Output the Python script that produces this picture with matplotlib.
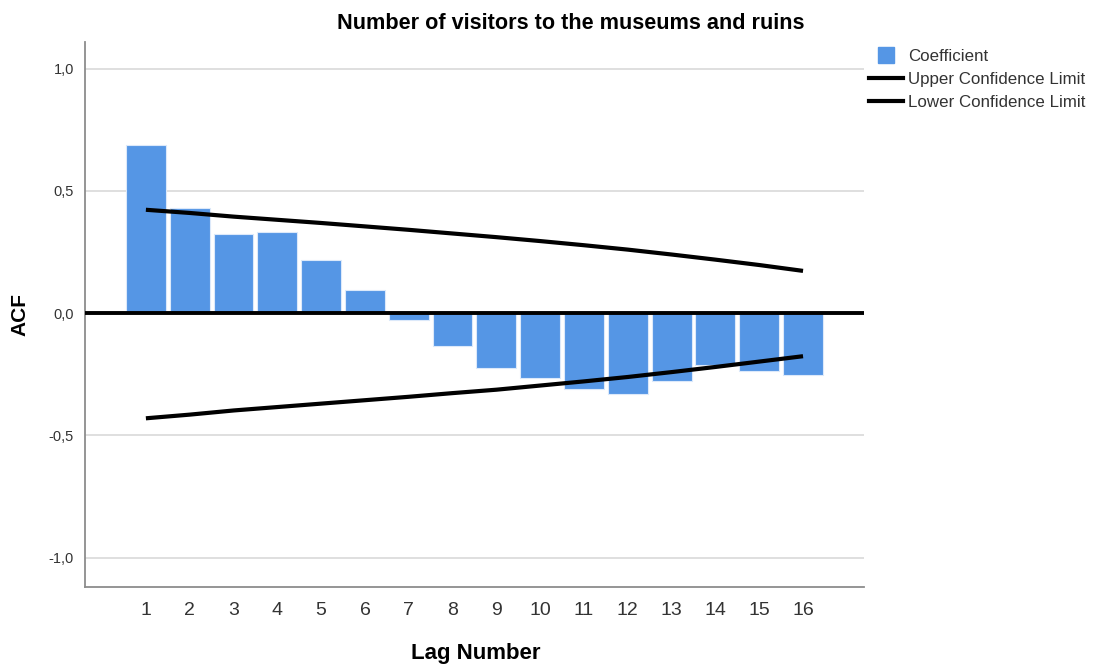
import matplotlib.pyplot as plt
from matplotlib.lines import Line2D

plt.rcParams['font.family'] = ['Liberation Sans', 'DejaVu Sans']

# data
lags = list(range(1, 17))
acf = [0.689, 0.429, 0.322, 0.331, 0.217, 0.093, -0.029, -0.134,
       -0.224, -0.265, -0.31, -0.33, -0.277, -0.214, -0.237, -0.252]
upper = [0.423, 0.41, 0.395, 0.382, 0.369, 0.355, 0.341, 0.326,
         0.311, 0.295, 0.278, 0.26, 0.24, 0.219, 0.197, 0.173]
lower = [-0.43, -0.415, -0.398, -0.384, -0.37, -0.356, -0.342, -0.327,
         -0.313, -0.296, -0.279, -0.261, -0.241, -0.22, -0.198, -0.176]
yticks = [-1.0, -0.5, 0.0, 0.5, 1.0]
ytick_labels = ['-1,0', '-0,5', '0,0', '0,5', '1,0']

fig = plt.figure(figsize=(10.94, 6.64), dpi=100)
ax = fig.add_axes([0.0777, 0.116, 0.712, 0.821])

ax.bar(lags, acf, width=0.91, color='#5596e5', edgecolor='#dce9fa', linewidth=0.8, zorder=2)
ax.axhline(0, color='black', lw=2.8, zorder=3)
ax.plot(lags, upper, color='black', lw=3, solid_capstyle='butt', zorder=4)
ax.plot(lags, lower, color='black', lw=3, solid_capstyle='butt', zorder=4)

ax.set_xlim(-0.39, 17.39)
ax.set_ylim(-1.12, 1.11)
ax.set_xticks(lags)
ax.set_xticklabels([str(l) for l in lags], fontsize=14, color='#333333')
ax.set_yticks(yticks)
ax.set_yticklabels(ytick_labels, fontsize=10.5, color='#333333')
ax.tick_params(length=0, pad=8)
ax.tick_params(axis='x', pad=11)
ax.grid(axis='y', color='#d9d9d9', lw=1.2, zorder=0)
ax.set_axisbelow(True)
for s in ['top', 'right']:
    ax.spines[s].set_visible(False)
for s in ['left', 'bottom']:
    ax.spines[s].set_color('#8c8c8c')
    ax.spines[s].set_linewidth(1.3)

fig.text(0.0185, 0.527, 'ACF', rotation=90, fontsize=15, fontweight='bold', ha='center', va='center')
fig.text(0.435, 0.016, 'Lag Number', fontsize=16, fontweight='bold', ha='center', va='center')
fig.text(0.522, 0.965, 'Number of visitors to the museums and ruins', fontsize=15.6,
         fontweight='bold', ha='center', va='center')

handles = [Line2D([], [], marker='s', ms=12, color='#5596e5', ls='none'),
           Line2D([], [], color='black', lw=3),
           Line2D([], [], color='black', lw=3)]
names = ['Coefficient', 'Upper Confidence Limit', 'Lower Confidence Limit']
fig.legend(handles, names, loc='upper left', bbox_to_anchor=(0.788, 0.936), frameon=False,
           fontsize=12.2, handlelength=2.0, handletextpad=0.3, labelspacing=0.45,
           borderaxespad=0, labelcolor='#333333')

fig.savefig('out.png', dpi=100)
